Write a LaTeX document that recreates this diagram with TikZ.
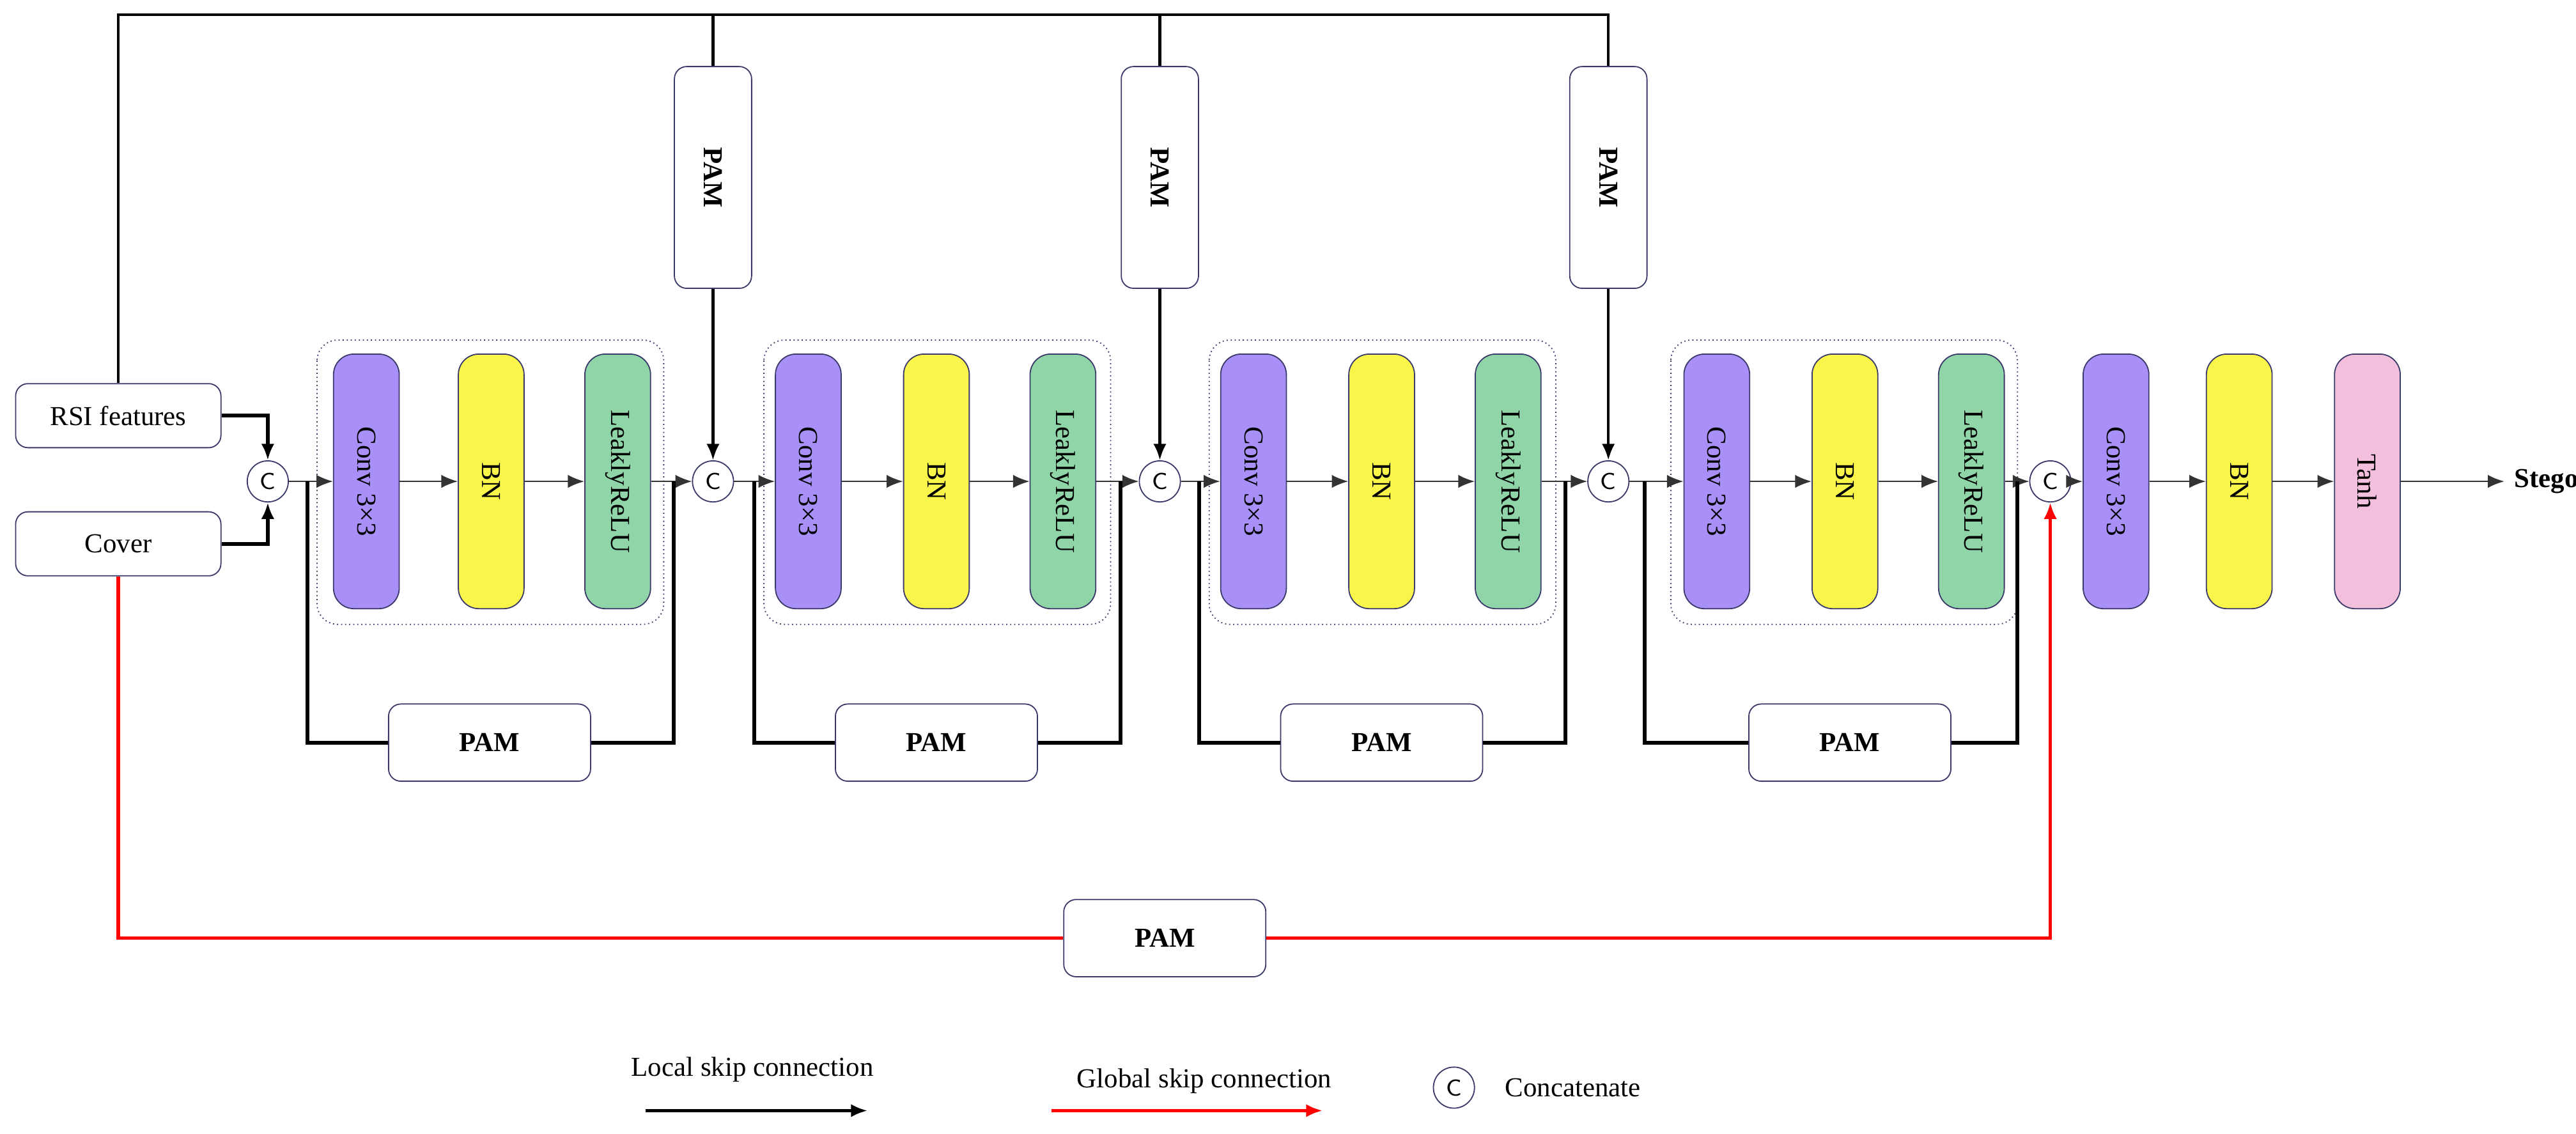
\documentclass[tikz,border=0pt]{standalone}
\usepackage{fontspec}
\setmainfont{Liberation Serif}
\usetikzlibrary{arrows.meta}
\definecolor{nv}{HTML}{3A3A6A}
\definecolor{cv}{HTML}{A990F8}
\definecolor{bn}{HTML}{F9F54A}
\definecolor{lr}{HTML}{90D5A8}
\definecolor{th}{HTML}{F2C0DC}
\begin{document}
\begin{tikzpicture}[x=0.02cm,y=-0.02cm,font=\fontsize{9.5}{11}\selectfont,
 box/.style={draw=nv,fill=white,rounded corners=0.15cm,minimum width=2.5cm,minimum height=0.78cm,inner sep=0},
 pamh/.style={box,minimum width=2.46cm,minimum height=0.94cm,font=\fontsize{9.5}{11}\selectfont\bfseries},
 pamv/.style={draw=nv,fill=white,rounded corners=0.15cm,rotate=-90,minimum width=2.7cm,minimum height=0.94cm,inner sep=0,font=\fontsize{9.5}{11}\selectfont\bfseries},
 blk/.style={draw=nv,rounded corners=0.25cm,rotate=-90,minimum width=3.1cm,minimum height=0.8cm,inner sep=0},
 cc/.style={circle,draw=nv,fill=white,minimum size=0.5cm,inner sep=0,font=\fontsize{8}{9}\selectfont\sffamily},
 grp/.style={draw=nv,densely dotted,rounded corners=0.25cm},
 ar/.style={-{Latex[length=2mm,width=1.6mm]}},
 thin/.style={draw=black!80,line width=0.5pt},
 thk/.style={line width=1.3pt}]
\useasboundingbox (0,0) rectangle (1568,690);
% inputs
\node[box] (rsi) at (72,253) {RSI features};
\node[box] (cover) at (72,331) {Cover};
% circles
\node[cc] (c1) at (163,293) {C};
\node[cc] (c2) at (434,293) {C};
\node[cc] (c3) at (706,293) {C};
\node[cc] (c4) at (979,293) {C};
\node[cc] (c5) at (1248,293) {C};
% groups
\foreach \gx in {193,465,736,1017}{\draw[grp] (\gx,207) rectangle ++(211,173);}
% blocks
\foreach \i/\a/\b/\c in {1/223/299/376,2/492/570/647,3/763/841/918,4/1045/1123/1200}{
 \node[blk,fill=cv] (cv\i) at (\a,293) {Conv 3×3};
 \node[blk,fill=bn] (bn\i) at (\b,293) {BN};
 \node[blk,fill=lr] (lr\i) at (\c,293) {LeaklyReLU};
 \draw[thin,ar] (cv\i.north) -- (bn\i.south);
 \draw[thin,ar] (bn\i.north) -- (lr\i.south);
}
\node[blk,fill=cv] (cv5) at (1288,293) {Conv 3×3};
\node[blk,fill=bn] (bn5) at (1363,293) {BN};
\node[blk,fill=th] (th5) at (1441,293) {Tanh};
\node[font=\fontsize{9.5}{11}\selectfont\bfseries] (stego) at (1550,293) {Stego};
\draw[thin,ar] (cv5.north) -- (bn5.south);
\draw[thin,ar] (bn5.north) -- (th5.south);
\draw[thin,ar] (th5.north) -- (stego.west);
% chain arrows
\draw[thin,ar] (c1.east) -- (cv1.south);
\draw[thin,ar] (c2.east) -- (cv2.south);
\draw[thin,ar] (c3.east) -- (cv3.south);
\draw[thin,ar] (c4.east) -- (cv4.south);
\draw[thin,ar] (c5.east) -- (cv5.south);
\draw[thin,ar] (lr1.north) -- (c2.west);
\draw[thin,ar] (lr2.north) -- (c3.west);
\draw[thin,ar] (lr3.north) -- (c4.west);
\draw[thin,ar] (lr4.north) -- (c5.west);
% inputs to c1
\draw[thk,ar] (rsi.east) -| (c1.north);
\draw[thk,ar] (cover.east) -| (c1.south);
% top PAMs
\node[pamv] (pt1) at (434,108) {PAM};
\node[pamv] (pt2) at (706,108) {PAM};
\node[pamv] (pt3) at (979,108) {PAM};
\coordinate (tl) at (72,9);
\coordinate (tr) at (979,9);
\draw[line width=1pt] (rsi.north) -- (tl) -- (tr) -- (pt3.west);
\draw[line width=1pt] (pt1.west) -- (pt1.west |- tl);
\draw[line width=1pt] (pt2.west) -- (pt2.west |- tl);
\draw[line width=1pt,ar] (pt1.east) -- (c2.north);
\draw[line width=1pt,ar] (pt2.east) -- (c3.north);
\draw[line width=1pt,ar] (pt3.east) -- (c4.north);
% local skips
\foreach \i/\s/\p/\e in {1/187/298/410,2/459/570/682,3/730/841/953,4/1001/1126/1228}{
 \node[pamh] (pl\i) at (\p,452) {PAM};
 \coordinate (s\i) at (\s,293);
 \coordinate (e\i) at (\e,293);
 \draw[thk] (s\i) |- (pl\i.west);
 \draw[thk] (pl\i.east) -| (e\i);
}
% global skip
\node[pamh] (pg) at (709,571) {PAM};
\draw[red,line width=1.2pt] (cover.south) |- (pg.west);
\draw[red,line width=1.2pt,ar] (pg.east) -| (c5.south);
% legend
\node (l1) at (458,651) {Local skip connection};
\coordinate (l1a) at (393,676); \coordinate (l1b) at (528,676);
\draw[line width=1pt,ar] (l1a) -- (l1b);
\node (l2) at (733,658) {Global skip connection};
\coordinate (l2a) at (640,676); \coordinate (l2b) at (805,676);
\draw[red,line width=1pt,ar] (l2a) -- (l2b);
\node[cc] (lc) at (885,662) {C};
\node[anchor=west] (lct) at (910,662) {Concatenate};
\end{tikzpicture}
\end{document}
